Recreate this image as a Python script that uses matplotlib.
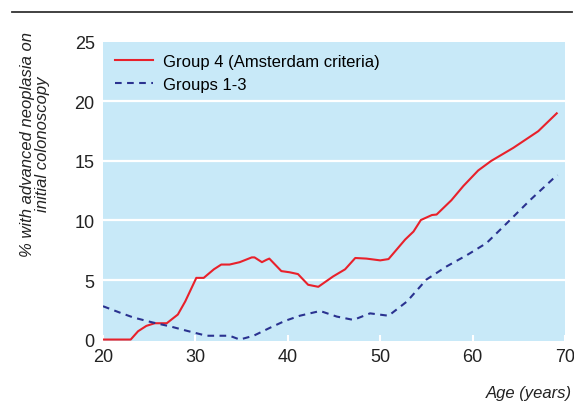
import matplotlib
matplotlib.use("Agg")
import matplotlib.pyplot as plt
from matplotlib.lines import Line2D

# Data
age_g4 = [20, 23, 23.8, 24.7, 25.6, 26.9, 28.1, 28.9, 30.1, 30.9, 32.0, 32.8, 33.7,
          34.8, 36.1, 36.4, 37.2, 37.7, 38.0, 39.3, 40.2, 41.1, 42.2, 43.3, 44.9,
          46.2, 47.3, 48.5, 50.0, 50.9, 52.7, 53.6, 54.4, 55.6, 56.1, 57.7, 59.0,
          60.6, 62.0, 64.4, 67.1, 69.1]
pct_g4 = [0, 0, 0.7, 1.15, 1.37, 1.37, 2.1, 3.2, 5.18, 5.18, 5.9, 6.3, 6.3,
          6.5, 6.9, 6.9, 6.5, 6.7, 6.8, 5.75, 5.65, 5.5, 4.6, 4.43, 5.3,
          5.9, 6.85, 6.8, 6.65, 6.76, 8.4, 9.07, 10.04, 10.46, 10.5, 11.7, 12.9,
          14.2, 15.0, 16.1, 17.5, 19.0]

age_g13 = [20, 21.8, 23.3, 25.4, 27.3, 29.1, 31.2, 33.7, 34.8, 36.3, 38.1, 39.7,
           41.3, 43.5, 45.3, 47.1, 48.9, 50.9, 52.9, 55.0, 57.2, 59.4, 61.5,
           63.7, 66.2, 68.7, 69.2]
pct_g13 = [2.8, 2.27, 1.85, 1.43, 1.1, 0.73, 0.32, 0.32, 0.0, 0.32, 1.0, 1.57,
           2.0, 2.4, 1.93, 1.65, 2.2, 2.0, 3.2, 5.04, 6.15, 7.1, 8.1,
           9.77, 11.7, 13.5, 13.8]

xticks = [20, 30, 40, 50, 60, 70]
yticks = [0, 5, 10, 15, 20, 25]

plt.rcParams['font.family'] = ['Liberation Sans', 'DejaVu Sans']

red = "#e8212b"
navy = "#2a3290"
bg = "#c8e9f8"
txt = "#222222"

fig = plt.figure(figsize=(5.74, 4.02), dpi=100)
ax = fig.add_axes([0.1794, 0.1493, 0.805, 0.744])
ax.set_facecolor(bg)

for y in [5, 10, 15, 20]:
    ax.axhline(y, color="white", lw=1.6, zorder=1)

ax.plot(age_g4, pct_g4, color=red, lw=1.5, zorder=3, label="Group 4 (Amsterdam criteria)")
ax.plot(age_g13, pct_g13, color=navy, lw=1.5, ls=(0, (3.2, 2.6)), zorder=3, label="Groups 1-3")

ax.set_xlim(20, 70)
ax.set_ylim(-0.12, 25)
ax.set_xticks(xticks)
ax.set_yticks(yticks)
for s in ax.spines.values():
    s.set_visible(False)
ax.tick_params(axis='x', direction='in', length=4, width=1.5, color='white',
               labelsize=13, labelcolor=txt, pad=5)
ax.tick_params(axis='y', length=0, labelsize=13, labelcolor=txt, pad=6)

ax.legend(loc='upper left', frameon=False, fontsize=12, handlelength=2.3,
          handletextpad=0.6, labelspacing=0.5, borderaxespad=0.3,
          bbox_to_anchor=(0.0, 1.0))

# y label and x label
fig.text(0.061, 0.64, "% with advanced neoplasia on\ninitial colonoscopy",
         rotation=90, ha='center', va='center', multialignment='center',
         fontsize=12, style='italic', color=txt, linespacing=1.0)
fig.text(0.997, 0.022, "Age (years)", ha='right', va='center',
         fontsize=12, style='italic', color=txt)

# top rule
fig.add_artist(Line2D([0.021, 0.997], [0.9677, 0.9677], color='#333333', lw=1.3))

fig.savefig("out.png", dpi=100)
